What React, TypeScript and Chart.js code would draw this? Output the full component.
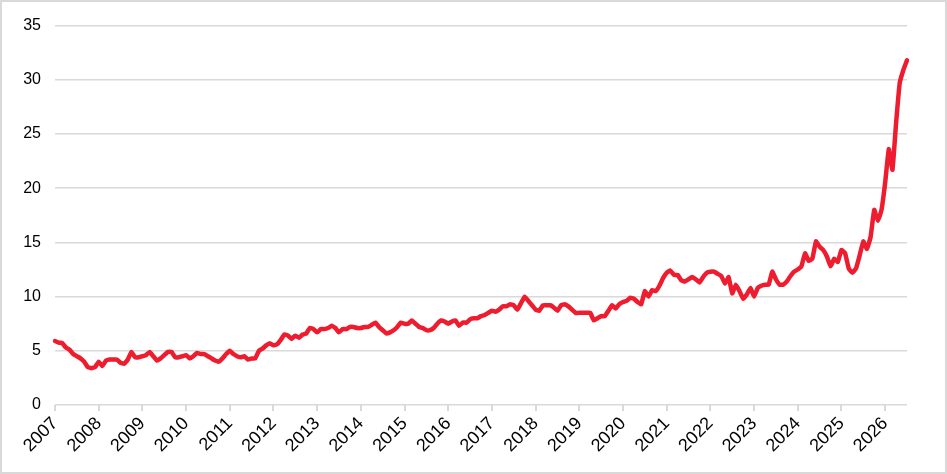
import { useEffect, useRef } from "react"
import { Chart, registerables } from "chart.js"

Chart.register(...registerables)

// Monthly observations, Jan 2007 to Jul 2026
const startYear = 2007
const values = [
  5.9, 5.75, 5.7, 5.3, 5.1, 4.7, 4.5, 4.3, 4.0, 3.5, 3.4, 3.5,
  4.0, 3.6, 4.1, 4.2, 4.2, 4.2, 3.9, 3.8, 4.2, 4.9, 4.4, 4.4,
  4.5, 4.6, 4.9, 4.5, 4.1, 4.3, 4.6, 4.9, 4.9, 4.4, 4.4, 4.5,
  4.6, 4.3, 4.5, 4.8, 4.7, 4.7, 4.5, 4.3, 4.1, 4.0, 4.3, 4.7,
  5.0, 4.7, 4.5, 4.4, 4.5, 4.2, 4.3, 4.3, 5.0, 5.2, 5.5, 5.7,
  5.5, 5.6, 6.0, 6.5, 6.4, 6.1, 6.4, 6.2, 6.5, 6.6, 7.1, 7.0,
  6.7, 7.0, 7.0, 7.1, 7.3, 7.1, 6.7, 7.0, 7.0, 7.2, 7.2, 7.1,
  7.1, 7.2, 7.2, 7.4, 7.6, 7.2, 6.9, 6.6, 6.7, 6.9, 7.2, 7.6,
  7.5, 7.5, 7.8, 7.5, 7.2, 7.1, 6.9, 6.9, 7.1, 7.5, 7.8, 7.7,
  7.5, 7.7, 7.8, 7.3, 7.6, 7.6, 7.9, 8.0, 8.0, 8.2, 8.3, 8.5,
  8.7, 8.6, 8.8, 9.1, 9.1, 9.3, 9.2, 8.8, 9.4, 10.0, 9.6, 9.2,
  8.8, 8.7, 9.2, 9.2, 9.2, 9.0, 8.7, 9.2, 9.3, 9.1, 8.8, 8.5,
  8.5, 8.5, 8.5, 8.5, 7.8, 8.0, 8.2, 8.2, 8.7, 9.2, 8.9, 9.3,
  9.5, 9.6, 9.9, 9.8, 9.5, 9.3, 10.5, 10.0, 10.6, 10.5, 11.0, 11.7,
  12.2, 12.4, 12.0, 12.0, 11.5, 11.4, 11.6, 11.8, 11.6, 11.3, 11.8, 12.2,
  12.3, 12.3, 12.1, 11.9, 11.2, 11.8, 10.3, 11.1, 10.5, 9.8, 10.2, 10.8,
  10.0, 10.8, 11.0, 11.1, 11.1, 12.3, 11.6, 11.1, 11.1, 11.4, 11.9, 12.3,
  12.5, 12.8, 14.0, 13.3, 13.5, 15.1, 14.6, 14.3, 13.7, 12.8, 13.5, 13.2,
  14.3, 14.0, 12.6, 12.2, 12.6, 13.8, 15.1, 14.4, 15.5, 18.0, 17.0, 18.0,
  20.5, 23.6, 21.7, 26.0, 29.7, 30.9, 31.8,
]
const labels = values.map((_, i) => `${startYear + Math.floor(i / 12)}-${String((i % 12) + 1).padStart(2, "0")}`)
const yTicks = [0, 5, 10, 15, 20, 25, 30, 35]

const FONT = "'Liberation Sans', Arial, sans-serif"
const GRID = "#d9d9d9"

export default function App() {
  const chartRef = useRef<HTMLCanvasElement>(null)
  const chartInstance = useRef<Chart | null>(null)

  useEffect(() => {
    document.body.style.margin = "0"
    if (!chartRef.current) return
    const ctx = chartRef.current.getContext("2d")
    if (!ctx) return

    if (chartInstance.current) chartInstance.current.destroy()

    chartInstance.current = new Chart(ctx, {
      type: "line",
      data: {
        labels,
        datasets: [
          {
            data: values,
            borderColor: "#ED1C2E",
            borderWidth: 4.5,
            pointRadius: 0,
            tension: 0.1,
            borderCapStyle: "round",
            borderJoinStyle: "round",
          },
        ],
      },
      options: {
        animation: false,
        responsive: true,
        maintainAspectRatio: false,
        layout: { padding: { left: 0, right: 38, top: 21, bottom: 0 } },
        plugins: { legend: { display: false }, tooltip: { enabled: false } },
        scales: {
          x: {
            offset: false,
            border: { display: false },
            grid: {
              drawOnChartArea: false,
              drawTicks: true,
              tickLength: 6,
              color: GRID,
              lineWidth: 2,
            },
            ticks: {
              autoSkip: false,
              minRotation: 45,
              maxRotation: 45,
              padding: 2,
              color: "#000",
              font: { family: FONT, size: 18 },
              callback: (_v, index) => (index % 12 === 0 ? String(startYear + index / 12) : null),
            },
            afterFit: (scale) => {
              scale.height = 67
            },
          },
          y: {
            min: 0,
            max: 35,
            border: { display: false },
            grid: { color: GRID, lineWidth: 1.5, drawTicks: false },
            afterBuildTicks: (scale) => {
              scale.ticks = yTicks.map((v) => ({ value: v }))
            },
            ticks: {
              padding: 14,
              color: "#000",
              font: { family: FONT, size: 16 },
            },
            afterFit: (scale) => {
              scale.width = 53
            },
          },
        },
      },
    })

    return () => {
      if (chartInstance.current) {
        chartInstance.current.destroy()
        chartInstance.current = null
      }
    }
  }, [])

  return (
    <div style={{ width: 947, height: 474, boxSizing: "border-box", border: `2px solid ${GRID}`, background: "#fff" }}>
      <div style={{ position: "relative", width: 943, height: 470 }}>
        <canvas ref={chartRef}></canvas>
      </div>
    </div>
  )
}
